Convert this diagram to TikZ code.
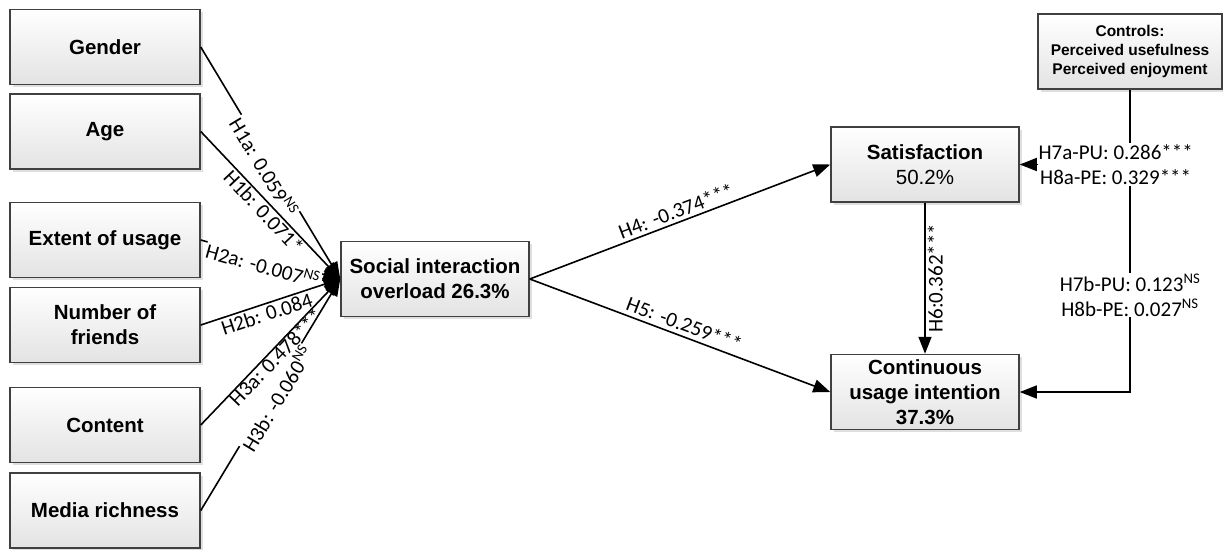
\documentclass[tikz,border=0pt]{standalone}
\usepackage{fontspec}
\setmainfont{Carlito}
\setsansfont{Liberation Sans}
\usetikzlibrary{arrows.meta,shadows}

\begin{document}
\begin{tikzpicture}[x=1pt, y=-1pt,
    box/.style={draw=black!75, line width=1.5pt, top color=white, bottom color=black!11,
        drop shadow={shadow xshift=2.5pt, shadow yshift=-2.5pt, opacity=0.25},
        minimum width=190pt, minimum height=75pt, align=center, inner sep=2pt,
        font=\sffamily\bfseries\fontsize{20.5}{25}\selectfont},
    lbl/.style={font=\fontsize{21}{25}\selectfont, inner sep=1pt},
    causal/.style={-{Triangle[length=17pt, width=13pt]}, line width=1.6pt}
]
\useasboundingbox (0,0) rectangle (1223,549);

% Antecedents
\node[box] (gender) at (105,47) {Gender};
\node[box] (age) at (105,131.5) {Age};
\node[box] (extent) at (105,240) {Extent of usage};
\node[box] (friends) at (105,325) {Number of\\friends};
\node[box] (content) at (105,425) {Content};
\node[box] (media) at (105,510.5) {Media richness};

% Constructs
\node[box, minimum width=188pt] (sio) at (435,279) {Social interaction\\overload 26.3\%};
\node[box, minimum width=188pt] (sat) at (925,164.5) {Satisfaction\\\textmd{50.2\%}};
\node[box, minimum width=188pt] (cui) at (925,392) {Continuous\\usage intention\\37.3\%};
\node[box, minimum width=184pt, font=\sffamily\bfseries\fontsize{15.5}{19}\selectfont] (ctrl) at (1130,51.5) {Controls:\\Perceived usefulness\\Perceived enjoyment};

% Paths to overload
\draw[causal] (gender.east) -- node[lbl, sloped, below=-3pt, fill=white] {H1a: 0.059\textsuperscript{NS}} (sio.west);
\draw[causal] (age.east) -- node[lbl, sloped, below=0pt] {H1b: 0.071*} (sio.west);
\draw[causal] (extent.east) -- node[lbl, sloped, pos=0.46, below=-3pt, fill=white] {H2a: -0.007\textsuperscript{NS}} (sio.west);
\draw[causal] (friends.east) -- node[lbl, sloped, pos=0.45, below=1pt] {H2b: 0.084} (sio.west);
\draw[causal] (content.east) -- node[lbl, sloped, below=-2pt] {H3a: 0.478***} (sio.west);
\draw[causal] (media.east) -- node[lbl, sloped, below=-3pt, fill=white] {H3b: -0.060\textsuperscript{NS}} (sio.west);

% Outcomes
\draw[causal] (sio.east) -- node[lbl, sloped, above=2pt] {H4: -0.374***} (sat.west);
\draw[causal] (sio.east) -- node[lbl, sloped, above=3pt] {H5: -0.259***} (cui.west);
\draw[causal] (sat.south) -- node[lbl, rotate=90, anchor=north, inner sep=2pt] {H6:0.362***} (cui.north);

% Controls
\coordinate (cj) at (ctrl.south |- sat.east);
\draw[causal] (ctrl.south) |- node[lbl, pos=0.34, fill=white, align=center] {H7b-PU: 0.123\textsuperscript{NS}\\H8b-PE: 0.027\textsuperscript{NS}} (cui.east);
\draw[causal] (cj) -- node[lbl, pos=0.13, fill=white, align=center] {H7a-PU: 0.286***\\H8a-PE: 0.329***} (sat.east);

\end{tikzpicture}
\end{document}
